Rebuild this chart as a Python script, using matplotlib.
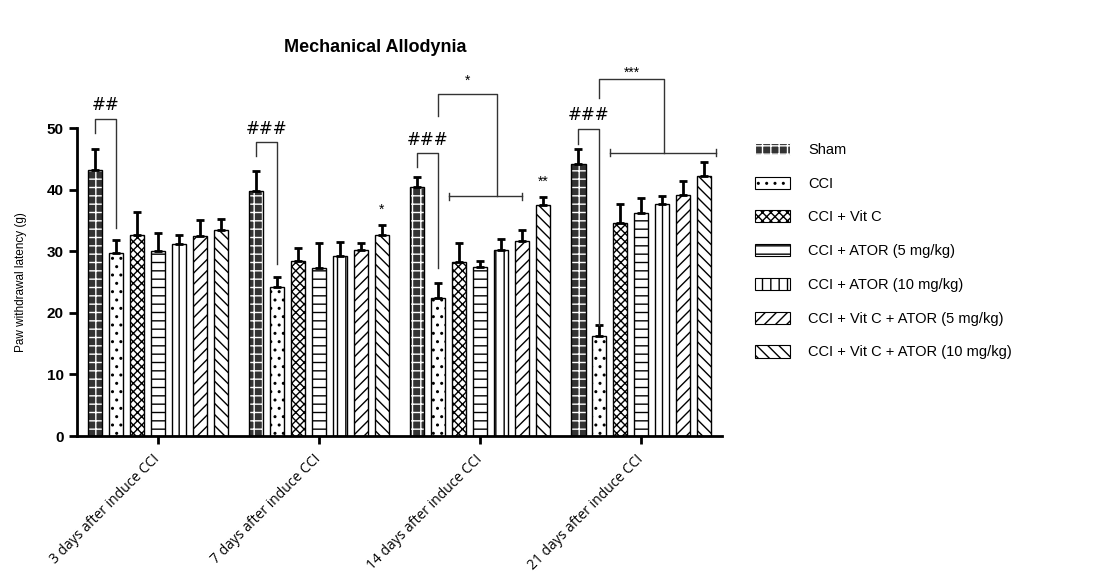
import numpy as np
import matplotlib
matplotlib.use("Agg")
import matplotlib.pyplot as plt
from matplotlib.patches import Patch

plt.rcParams['font.family'] = ['Liberation Sans', 'DejaVu Sans']
plt.rcParams['hatch.linewidth'] = 1.0

# Data
days = ['3 days after induce CCI', '7 days after induce CCI',
        '14 days after induce CCI', '21 days after induce CCI']
groups = ['Sham', 'CCI', 'CCI + Vit C', 'CCI + ATOR (5 mg/kg)',
          'CCI + ATOR (10 mg/kg)', 'CCI + Vit C + ATOR (5 mg/kg)',
          'CCI + Vit C + ATOR (10 mg/kg)']

# mean per group (rows) and day (columns)
means = np.array([
    [43.2, 39.7, 40.5, 44.2],
    [29.7, 24.2, 22.4, 16.2],
    [32.7, 28.4, 28.2, 34.5],
    [30.1, 27.2, 27.4, 36.2],
    [31.2, 29.2, 30.2, 37.7],
    [32.5, 30.2, 31.7, 39.1],
    [33.5, 32.7, 37.5, 42.2],
])
sems = np.array([
    [3.4, 3.4, 1.5, 2.4],
    [2.2, 1.6, 2.4, 1.8],
    [3.6, 2.2, 3.2, 3.2],
    [2.8, 4.1, 1.0, 2.5],
    [1.5, 2.3, 1.8, 1.3],
    [2.5, 1.1, 1.8, 2.3],
    [1.8, 1.6, 1.3, 2.3],
])

# significance brackets: (day, left bar, right bar, top, left foot, right foot, text, text y)
brackets = [
    (0, 0, 1, 51.5, 49.2, 33.7, '##', 52.2),
    (1, 0, 1, 47.7, 45.5, 28.0, '###', 48.4),
    (2, 0, 1, 45.9, 43.6, 27.3, '###', 46.6),
    (3, 0, 1, 49.9, 47.4, 18.1, '###', 50.6),
    (2, 1, 3.8, 55.5, 51.9, 38.9, '*', 56.6),
    (3, 1, 4.08, 57.9, 54.9, 46.0, '***', 57.9),
]
# horizontal range bars: (day, from bar, to bar, y)
ranges = [(2, 1.5, 5, 38.9), (3, 1.5, 6.55, 46.0)]
# stars over single bars: (day, bar, text, y)
stars = [(1, 6, '*', 35.6), (2, 6, '**', 40.2)]

faces = ['#333333', 'white', 'white', 'white', 'white', 'white', 'white']
hatches = ['++', '..', 'xxxx', '--', '||', '///', '\\\\\\']
hcolors = ['white', 'black', 'black', 'black', 'black', 'black', 'black']

fig = plt.figure(figsize=(11.13, 5.84), dpi=100)
ax = fig.add_axes([0.0692, 0.2534, 0.5795, 0.5274])

x = np.arange(len(days))
pitch = 0.13
width = 0.087

def bx(day, bar):
    return x[day] + (bar - 3) * pitch

for i, g in enumerate(groups):
    xs = x + (i - 3) * pitch
    ax.bar(xs, means[i], width, color=faces[i], edgecolor=hcolors[i],
           hatch=hatches[i], linewidth=0, zorder=2)
    ax.bar(xs, means[i], width, fill=False, edgecolor='black',
           linewidth=1.0, zorder=3)
    ax.errorbar(xs, means[i], yerr=[np.zeros(len(days)), sems[i]], fmt='none',
                ecolor='black', elinewidth=2, capsize=3, capthick=2, zorder=4)

for d, b1, b2, top, f1, f2, txt, ty in brackets:
    x1, x2 = bx(d, b1), bx(d, b2)
    ax.plot([x1, x1, x2, x2], [f1, top, top, f2], color='#333333', lw=1,
            clip_on=False, zorder=5)
    if txt.startswith('#'):
        ax.text((x1 + x2) / 2, ty, txt, ha='center', va='bottom', fontsize=12,
                family='DejaVu Sans', clip_on=False)
    else:
        ax.text((x1 + x2) / 2, ty, txt, ha='center', va='bottom', fontsize=10,
                clip_on=False)

for d, b1, b2, y in ranges:
    x1, x2 = bx(d, b1), bx(d, b2)
    ax.plot([x1, x2], [y, y], color='#333333', lw=1, zorder=5)
    ax.plot([x1, x1], [y - 0.6, y + 0.6], color='#333333', lw=1, zorder=5)
    ax.plot([x2, x2], [y - 0.6, y + 0.6], color='#333333', lw=1, zorder=5)

for d, b, txt, y in stars:
    ax.text(bx(d, b), y, txt, ha='center', va='bottom', fontsize=10)

ax.set_xlim(-0.5, 3.5)
ax.set_ylim(0, 50)
ax.set_yticks([0, 10, 20, 30, 40, 50])
ax.set_xticks(x)
ax.set_xticklabels(days, rotation=45, ha='right', va='center',
                   rotation_mode='anchor', fontsize=10, family='Open Sans')
for lab in ax.get_yticklabels():
    lab.set_fontweight('bold')
    lab.set_fontsize(11)
ax.tick_params(axis='both', width=2, length=6)
ax.tick_params(axis='x', pad=9)
for s in ['top', 'right']:
    ax.spines[s].set_visible(False)
for s in ['left', 'bottom']:
    ax.spines[s].set_linewidth(2)
ax.set_ylabel('Paw withdrawal latency (g)', fontsize=8.5, labelpad=14)

fig.text(0.337, 0.918, 'Mechanical Allodynia', ha='center', va='center',
         fontsize=13, fontweight='bold')

handles = [Patch(facecolor=faces[i], edgecolor=hcolors[i] if i == 0 else 'black',
                 hatch=hatches[i], linewidth=0.8) for i in range(len(groups))]
fig.legend(handles, groups, loc='upper left', bbox_to_anchor=(0.667, 0.778),
           frameon=False, fontsize=10.5, handlelength=2.4, handleheight=0.9,
           labelspacing=1.35, handletextpad=1.2)

fig.savefig('out.png', dpi=100)
